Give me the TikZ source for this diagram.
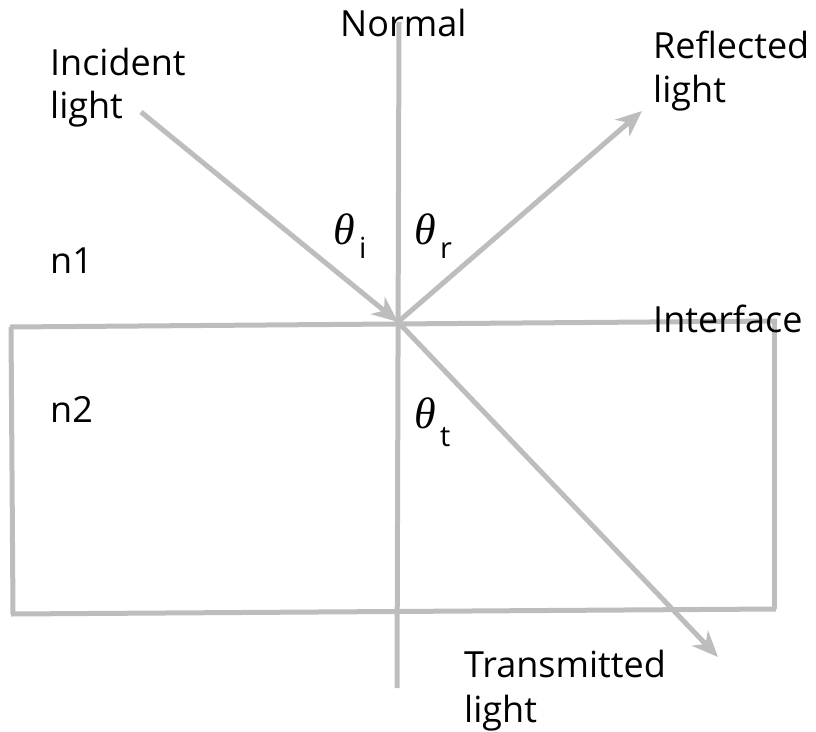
\documentclass[tikz,border=0pt]{standalone}
\usepackage{fontspec}
\setmainfont{Open Sans}
\newfontfamily\thfont{Liberation Serif}
\usetikzlibrary{arrows.meta}
\definecolor{lgray}{HTML}{BDBDBD}
\tikzset{
  ray/.style={draw=lgray,line width=5pt},
  raya/.style={ray,-{Stealth[length=26pt,width=22pt,inset=8pt]}},
  lbl/.style={anchor=base west,inner sep=0pt,font=\fontsize{36}{44}\selectfont},
  th/.style={anchor=base west,inner sep=0pt,font=\thfont\itshape\fontsize{44}{48}\selectfont},
  sub/.style={anchor=base west,inner sep=0pt,font=\fontsize{29}{32}\selectfont},
}
\begin{document}
\begin{tikzpicture}[x=1pt,y=-1pt]
\useasboundingbox (0,0) rectangle (816,731);
% coordinates
\coordinate (ntop) at (399,22);
\coordinate (nbot) at (397,688);
\coordinate (O) at (398,322);
\coordinate (tl) at (10,327);
\coordinate (tr) at (777,321);
\coordinate (rtop) at (774,322);
\coordinate (rbot) at (774,609);
\coordinate (ltop) at (11,327);
\coordinate (lbot) at (13,614);
\coordinate (bl) at (11,614);
\coordinate (br) at (776,609);
\coordinate (inc) at (141,112);
\coordinate (refl) at (642,111);
\coordinate (tran) at (718,657);
% box and normal
\draw[ray] (ntop) -- (nbot);
\draw[ray] (tl) -- (tr);
\draw[ray] (ltop) -- (lbot);
\draw[ray] (rtop) -- (rbot);
\draw[ray] (bl) -- (br);
% rays
\draw[raya] (inc) -- (O);
\draw[raya] (O) -- (refl);
\draw[raya] (O) -- (tran);
% labels
\node[lbl] (normal) at (340,36) {Normal};
\node[lbl] (inc1) at (50,75) {Incident};
\node[lbl] (inc2) at (50,118) {light};
\node[lbl] (ref1) at (653,58) {Reflected};
\node[lbl] (ref2) at (653,102) {light};
\node[lbl] (n1) at (50,273) {n1};
\node[lbl] (n2) at (50,422) {n2};
\node[lbl] (intf) at (653,332) {Interface};
\node[lbl] (tr1) at (464,677) {Transmitted};
\node[lbl] (tr2) at (464,722) {light};
% angles
\node[th] (thi) at (333,244) {θ};
\node[sub] (si) at (359,258) {i};
\node[th] (thr) at (414,244) {θ};
\node[sub] (sr) at (440,258) {r};
\node[th] (tht) at (414,428) {θ};
\node[sub] (st) at (440,446) {t};
\end{tikzpicture}
\end{document}
